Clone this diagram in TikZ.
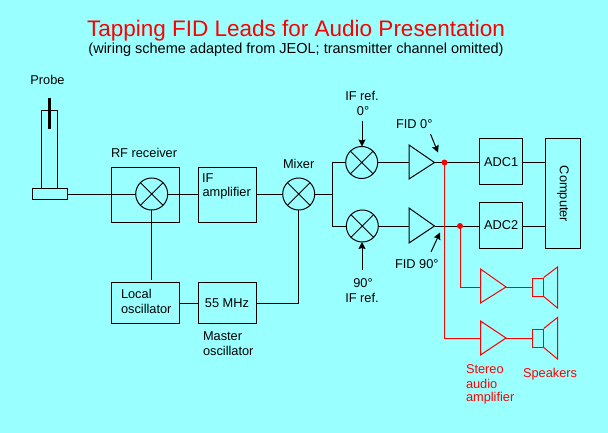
\documentclass[tikz,border=0pt]{standalone}
\usepackage{fontspec}
\setmainfont{Liberation Sans}
\definecolor{bgc}{RGB}{153,255,255}
\definecolor{redc}{RGB}{255,0,0}
\tikzset{
  wire/.style={draw=black,line width=1pt},
  rwire/.style={draw=redc,line width=1pt},
  box/.style={draw=black,line width=1pt,rectangle,inner sep=0pt,outer sep=0pt,minimum width=#1},
  box/.default=58pt,
  mix/.style={draw=black,line width=1pt,circle,inner sep=0pt,outer sep=0pt,minimum size=32pt},
  lab/.style={inner sep=0pt,outer sep=0pt,font=\fontsize{12.8}{14}\selectfont,black},
  rlab/.style={lab,text=redc},
  dot/.style={circle,fill=redc,inner sep=0pt,minimum size=6pt},
  callout/.style={-{Stealth[length=7pt,width=7pt,inset=1pt]},line width=1pt,black},
}
\usetikzlibrary{arrows.meta}
\begin{document}
\begin{tikzpicture}[x=1pt,y=-1pt]
\useasboundingbox (0,0) rectangle (608,433);
\fill[bgc] (0,0) rectangle (608,433);
% titles
\node[inner sep=0pt,text=redc,font=\fontsize{22.5}{24}\selectfont] (title) at (296,31) {Tapping FID Leads for Audio Presentation};
\node[inner sep=0pt,font=\fontsize{14.5}{16}\selectfont] (subtitle) at (296,50) {(wiring scheme adapted from JEOL; transmitter channel omitted)};
% probe
\coordinate (tubeTL) at (41.5,111);
\coordinate (tubeTR) at (57.5,111);
\coordinate (tubeBL) at (41.5,189);
\coordinate (tubeBR) at (57.5,189);
\node[draw=black,line width=1pt,inner sep=0pt,minimum width=35pt,minimum height=10pt] (base) at (49.5,194) {};
\draw[wire] (tubeBL) -- (tubeTL) -- (tubeTR) -- (tubeBR);
\coordinate (rodT) at (49.5,98);
\coordinate (rodB) at (49.5,129);
\draw[line width=3pt,black] (rodT) -- (rodB);
\node[lab] (probe) at (47.5,80) {Probe};
% boxes
\node[box=68pt,minimum height=54pt] (rf) at (145,195) {};
\node[box,minimum height=54pt] (ifa) at (227,195) {};
\node[box=68pt,minimum height=41pt] (lo) at (145,302.5) {};
\node[box,minimum height=41pt] (mo) at (227,302.5) {};
\node[box=42.5pt,minimum height=46pt,font=\fontsize{12.8}{14}\selectfont] (adc1) at (501.2,162) {ADC1};
\node[box=42.5pt,minimum height=46pt,font=\fontsize{12.8}{14}\selectfont] (adc2) at (501.2,225) {ADC2};
\node[box=35pt,minimum height=109pt] (comp) at (562.5,193.5) {};
\node[lab,rotate=-90] (comptxt) at (563,194) {Computer};
% mixers
\node[mix] (m1) at (151.7,194) {};
\node[mix] (m2) at (298.7,194) {};
\node[mix] (m3) at (361.7,162.5) {};
\node[mix] (m4) at (362.3,226) {};
\foreach \m in {m1,m2,m3,m4} {
  \draw[line width=.8pt] (\m.45) -- (\m.225) (\m.135) -- (\m.315);
}
% amplifiers
\coordinate (a1T) at (409,145); \coordinate (a1B) at (409,179); \coordinate (a1O) at (434.5,162.5); \coordinate (a1I) at (409,162.5);
\coordinate (a2T) at (409,208); \coordinate (a2B) at (409,243); \coordinate (a2O) at (434.5,226); \coordinate (a2I) at (409,226);
\draw[wire] (a1T) -- (a1O) -- (a1B) -- cycle;
\draw[wire] (a2T) -- (a2O) -- (a2B) -- cycle;
% wiring
\coordinate (split) at (332,194);
\coordinate (j3) at (332,162.5);
\coordinate (j4) at (332,226);
\coordinate (c1) at (151.7,280);
\coordinate (c2) at (298.7,303);
\draw[wire] (base.east) -- (m1.west);
\draw[wire] (m1.east) -- (ifa.west |- m1.east);
\draw[wire] (ifa.east |- m2.west) -- (m2.west);
\draw[wire] (m1.south) -- (c1);
\draw[wire] (lo.east |- c2) -- (mo.west |- c2);
\draw[wire] (mo.east |- c2) -- (c2) -- (m2.south);
\draw[wire] (m2.east) -- (split);
\draw[wire] (m3.west) -- (j3) -- (j4) -- (m4.west);
\draw[wire] (m3.east) -- (a1I);
\draw[wire] (m4.east) -- (a2I);
\draw[wire] (a1O) -- (adc1.west |- a1O);
\draw[wire] (a2O) -- (adc2.west |- a2O);
\draw[wire] (adc1.east |- a1O) -- (comp.west |- a1O);
\draw[wire] (adc2.east |- a2O) -- (comp.west |- a2O);
% callouts
\coordinate (ifA) at (362,121);
\coordinate (ifB) at (362,270);
\coordinate (f0A) at (430.5,134);
\coordinate (f0B) at (438,152.5);
\coordinate (f9A) at (431,252);
\coordinate (f9B) at (440,232.5);
\draw[callout] (ifA) -- (ifA |- m3.north);
\draw[callout] (ifB) -- (ifB |- m4.south);
\draw[callout] (f0A) -- (f0B);
\draw[callout] (f9A) -- (f9B);
% red speakers
\node[dot] (d1) at (444.5,162.5) {};
\node[dot] (d2) at (460,226) {};
\coordinate (r1) at (460,287);
\coordinate (r2) at (444.5,338);
\coordinate (a3T) at (480.5,269); \coordinate (a3B) at (480.5,303); \coordinate (a3O) at (506,287); \coordinate (a3I) at (480.5,287);
\coordinate (a4T) at (480.5,321); \coordinate (a4B) at (480.5,355); \coordinate (a4O) at (506,338); \coordinate (a4I) at (480.5,338);
\draw[rwire] (a3T) -- (a3O) -- (a3B) -- cycle;
\draw[rwire] (a4T) -- (a4O) -- (a4B) -- cycle;
\draw[rwire] (d2.center) -- (r1) -- (a3I);
\draw[rwire] (d1.center) -- (r2) -- (a4I);
\node[draw=redc,line width=1pt,inner sep=0pt,minimum width=11pt,minimum height=18pt] (s1) at (537.7,287) {};
\node[draw=redc,line width=1pt,inner sep=0pt,minimum width=11pt,minimum height=18pt] (s2) at (537.7,338) {};
\draw[rwire] (a3O) -- (s1.west);
\draw[rwire] (a4O) -- (s2.west);
\coordinate (c1T) at (557.5,267); \coordinate (c1B) at (557.5,308);
\coordinate (c2T) at (557.5,317.5); \coordinate (c2B) at (557.5,359);
\draw[rwire] (s1.north east) -- (c1T) -- (c1B) -- (s1.south east);
\draw[rwire] (s2.north east) -- (c2T) -- (c2B) -- (s2.south east);
% labels
\node[lab,anchor=west] (t1) at (111,153) {RF receiver};
\node[lab,anchor=west] (t2) at (202,178.5) {IF};
\node[lab,anchor=west] (t3) at (202.5,193.5) {amplifier};
\node[lab,anchor=west] (t4) at (283,164) {Mixer};
\node[lab] (t5) at (362,96) {IF ref.};
\node[lab] (t6) at (363,111) {0°};
\node[lab,anchor=west] (t7) at (396,124) {FID 0°};
\node[lab,anchor=west] (t8) at (395,264) {FID 90°};
\node[lab] (t9) at (363,283) {90°};
\node[lab] (t10) at (362,298) {IF ref.};
\node[lab,anchor=west] (t11) at (121,294) {Local};
\node[lab,anchor=west] (t12) at (121,308.5) {oscillator};
\node[lab] (t13) at (227,303) {55 MHz};
\node[lab,anchor=west] (t14) at (203,336) {Master};
\node[lab,anchor=west] (t15) at (203,350.5) {oscillator};
\node[rlab,anchor=west] (t16) at (466,369) {Stereo};
\node[rlab,anchor=west] (t17) at (466,384) {audio};
\node[rlab,anchor=west] (t18) at (466,398) {amplifier};
\node[rlab,anchor=west] (t19) at (523,374) {Speakers};
\end{tikzpicture}
\end{document}
